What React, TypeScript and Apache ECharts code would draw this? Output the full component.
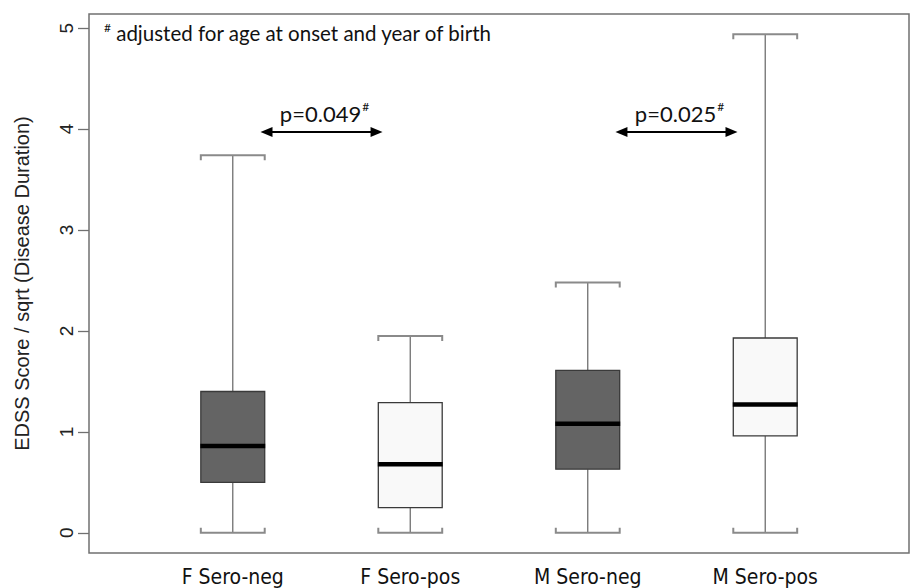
import React, { useEffect, useRef } from 'react';
import * as echarts from 'echarts';

// ---- data ----
const categories = ['F Sero-neg', 'F Sero-pos', 'M Sero-neg', 'M Sero-pos'];
const whiskerLow = [0, 0, 0, 0];
const quartile1 = [0.5, 0.25, 0.63, 0.96];
const medians = [0.86, 0.68, 1.08, 1.27];
const quartile3 = [1.4, 1.29, 1.61, 1.93];
const whiskerHigh = [3.74, 1.95, 2.48, 4.94];
const boxFills = ['#646464', '#f9f9f9', '#646464', '#f9f9f9'];
const yTicks = [0, 1, 2, 3, 4, 5];
const comparisonFrom = [1, 3];
const comparisonTo = [2, 4];
const comparisonLabels = ['p=0.049', 'p=0.025'];
const comparisonLevel = 3.97;
const footnote = 'adjusted for age at onset and year of birth';
const yTitle = 'EDSS Score / sqrt (Disease Duration)';

const SANS = '"Liberation Sans", Arial, sans-serif';
const NARROW = '"DejaVu Sans Condensed", "Liberation Sans Narrow", "Liberation Sans", sans-serif';
const CAL = 'Lato, "Open Sans", sans-serif';

export default function App() {
  const ref = useRef<HTMLDivElement>(null);

  useEffect(() => {
    if (!ref.current) return;
    const chart = echarts.init(ref.current, undefined, { renderer: 'svg' });
    const boxWidth = 0.36;
    const inset = 0.19;

    const seriesData = categories.map((_, i) => [
      i + 1,
      whiskerLow[i],
      quartile1[i],
      medians[i],
      quartile3[i],
      whiskerHigh[i],
    ]);

    const markLineData = comparisonFrom.map((f, i) => [
      {
        coord: [f + inset, comparisonLevel],
        label: {
          show: true,
          position: 'middle',
          formatter: '{p|' + comparisonLabels[i] + '}{s|#}',
          distance: 6,
          rich: {
            p: { fontSize: 22, fontFamily: CAL, color: '#111', lineHeight: 26, padding: [0, 0, 0, 6] },
            s: { fontSize: 12, fontFamily: CAL, color: '#111', verticalAlign: 'top', lineHeight: 26, padding: [0, 0, 0, 1] },
          },
        },
      },
      { coord: [comparisonTo[i] - inset, comparisonLevel] },
    ]);

    const option: any = {
      animation: false,
      backgroundColor: '#ffffff',
      grid: {
        left: 89,
        right: 3,
        top: 14,
        bottom: 35,
        show: true,
        borderColor: '#707070',
        borderWidth: 1.5,
        backgroundColor: 'transparent',
      },
      xAxis: {
        type: 'value',
        min: 0.19,
        max: 4.81,
        axisLine: { show: false, onZero: false },
        axisTick: { show: false },
        splitLine: { show: false },
        axisLabel: {
          customValues: [1, 2, 3, 4],
          formatter: (v: number) => categories[Math.round(v) - 1] ?? '',
          fontSize: 21,
          fontFamily: NARROW,
          color: '#111',
          margin: 13,
        },
      },
      yAxis: {
        type: 'value',
        min: -0.2,
        max: 5.14,
        axisLine: { show: false, onZero: false },
        splitLine: { show: false },
        axisTick: {
          show: true,
          length: 11,
          customValues: yTicks,
          lineStyle: { color: '#707070', width: 1.3 },
        },
        axisLabel: {
          customValues: yTicks,
          rotate: 90,
          fontSize: 19,
          fontFamily: SANS,
          color: '#222',
          margin: 13.5,
        },
        name: yTitle,
        nameLocation: 'middle',
        nameGap: 57,
        nameTextStyle: { fontSize: 20, fontFamily: SANS, color: '#222' },
      },
      graphic: [
        {
          type: 'text',
          x: 104,
          y: 33.4,
          style: {
            text: '{s|#}{a| ' + footnote + '}',
            verticalAlign: 'middle',
            rich: {
              s: { fontSize: 12, fontFamily: CAL, fill: '#111', verticalAlign: 'top', lineHeight: 24 },
              a: { fontSize: 20.5, fontFamily: CAL, fill: '#111', lineHeight: 24 },
            },
          },
        },
      ],
      series: [
        {
          type: 'custom',
          data: seriesData,
          encode: { x: 0, y: [1, 2, 3, 4, 5] },
          renderItem: (params: any, api: any) => {
            const x = api.value(0);
            const lo = api.coord([x, api.value(1)]);
            const q1p = api.coord([x, api.value(2)]);
            const medp = api.coord([x, api.value(3)]);
            const q3p = api.coord([x, api.value(4)]);
            const hip = api.coord([x, api.value(5)]);
            const half = api.size([boxWidth, 0])[0] / 2;
            const cx = lo[0];
            const serif = 5;
            const whisker = { stroke: '#707070', lineWidth: 1.3 };
            const cap = { stroke: '#8a8a8a', lineWidth: 2, fill: 'none' };
            return {
              type: 'group',
              children: [
                { type: 'line', shape: { x1: cx, y1: q3p[1], x2: cx, y2: hip[1] }, style: whisker },
                { type: 'line', shape: { x1: cx, y1: q1p[1], x2: cx, y2: lo[1] }, style: whisker },
                {
                  type: 'polyline',
                  shape: { points: [[cx - half, hip[1] + serif], [cx - half, hip[1]], [cx + half, hip[1]], [cx + half, hip[1] + serif]] },
                  style: cap,
                },
                {
                  type: 'polyline',
                  shape: { points: [[cx - half, lo[1] - serif], [cx - half, lo[1]], [cx + half, lo[1]], [cx + half, lo[1] - serif]] },
                  style: cap,
                },
                {
                  type: 'rect',
                  shape: { x: cx - half, y: q3p[1], width: 2 * half, height: q1p[1] - q3p[1] },
                  style: { fill: boxFills[params.dataIndex], stroke: '#3a3a3a', lineWidth: 1.3 },
                },
                {
                  type: 'line',
                  shape: { x1: cx - half - 0.5, y1: medp[1], x2: cx + half + 0.5, y2: medp[1] },
                  style: { stroke: '#000', lineWidth: 4.5 },
                },
              ],
            };
          },
          markLine: {
            silent: true,
            symbol: ['triangle', 'triangle'],
            symbolSize: [10, 12],
            lineStyle: { color: '#000', width: 2, type: 'solid' },
            emphasis: { disabled: true },
            data: markLineData,
          },
        },
      ],
    };

    chart.setOption(option);
    return () => chart.dispose();
  }, []);

  return (
    <div
      ref={ref}
      style={{ position: 'fixed', left: 0, top: 0, width: 912, height: 588, background: '#fff' }}
    />
  );
}
